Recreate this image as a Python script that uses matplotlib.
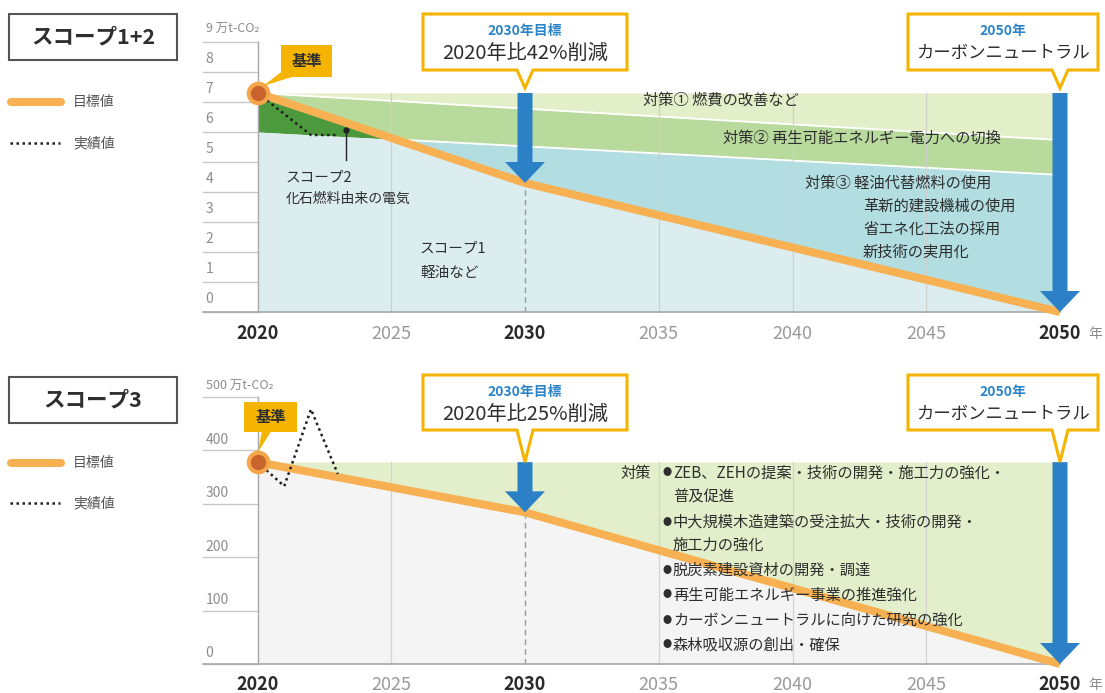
import numpy as np
import matplotlib
matplotlib.use('Agg')
import matplotlib.pyplot as plt
from matplotlib.patches import Polygon, FancyArrow, Rectangle

plt.rcParams['font.family'] = ['Noto Sans CJK JP', 'DejaVu Sans']

W, H = 1105, 693

# ---------------- data ----------------
target_years = [2020, 2030, 2050]
actual_years = [2020, 2021, 2022, 2023]
band_years = [2020, 2050]

s12_target = [7.3, 4.3, 0.0]
s12_actual = [7.3, 6.6, 5.9, 5.9]
s12_top = [7.3, 7.3]
s12_measure1_floor = [7.3, 5.73]
s12_scope1_top = [6.0, 4.57]

s3_target = [378, 284, 0]
s3_actual = [378, 333, 477, 356]
s3_top = [378, 378]

xtick_years = [2020, 2025, 2030, 2035, 2040, 2045, 2050]
bold_years = [2020, 2030, 2050]
grid_years = [2025, 2035, 2040, 2045]
s12_yticks = list(range(0, 10))
s3_yticks = [0, 100, 200, 300, 400, 500]

# ---------------- colours ----------------
C_ORANGE = '#f7b153'
C_BLUE = '#2b80c6'
C_YEL = '#f5b400'
C_TXT = '#2e2e2e'
C_GRAY = '#8c8c8c'

# ---------------- layout (pixel mapping) ----------------
X0, XS = 257.5, 26.75           # px of 2020, px per year
XLIM = (2020 - X0 / XS, 2020 + (W - X0) / XS)
SPLIT = 346.5

fig = plt.figure(figsize=(W / 100, H / 100), dpi=100)
ax1 = fig.add_axes([0, 1 - SPLIT / H, 1, SPLIT / H])
ax2 = fig.add_axes([0, 0, 1, 1 - SPLIT / H])
ax1.set_xlim(*XLIM); ax1.set_ylim((312 - SPLIT) / 30, 312 / 30)
ax2.set_xlim(*XLIM); ax2.set_ylim((664 - H) / 0.534, (664 - SPLIT) / 0.534)
for a in (ax1, ax2):
    a.axis('off')


def P(x, y):
    return (x / W, 1 - y / H)


def ftext(x, y, s, **kw):
    fig.text(*P(x, y), s, transform=fig.transFigure, **kw)


def fpoly(pts, **kw):
    fig.patches.append(Polygon([P(x, y) for x, y in pts], closed=True,
                               transform=fig.transFigure, **kw))


def fline(xs, ys, **kw):
    fig.lines.append(plt.Line2D([x / W for x in xs], [1 - y / H for y in ys],
                                transform=fig.transFigure, **kw))


xs = np.linspace(2020, 2050, 1201)

# ================= TOP PANEL =================
ax = ax1
org = np.interp(xs, target_years, s12_target)
lA = np.interp(xs, band_years, s12_measure1_floor)
lB = np.interp(xs, band_years, s12_scope1_top)
tp = np.interp(xs, band_years, s12_top)
ax.fill_between(xs, lA, tp, color='#e3efc9', lw=0, zorder=1)
ax.fill_between(xs, np.maximum(org, lB), lA, color='#b9da9d', lw=0, zorder=1)
ax.fill_between(xs, lB, org, where=org >= lB, color='#4c9a3d', lw=0, zorder=1, interpolate=True)
ax.fill_between(xs, org, lB, where=org <= lB, color='#b2dde1', lw=0, zorder=1, interpolate=True)
ax.fill_between(xs, 0, np.minimum(org, lB), color='#dcedf0', lw=0, zorder=1)
ax.plot(xs, lA, color='white', lw=1.3, zorder=2)
ax.plot(xs, np.where(org <= lB, lB, np.nan), color='white', lw=1.3, zorder=2)

for g in grid_years:
    ax.plot([g, g], [0, s12_top[0]], color='#cfcfcf', lw=0.9, zorder=2)
ax.plot([2030, 2030], [0, s12_target[1]], color='#9a9a9a', lw=1, ls=(0, (4, 3)), zorder=2)

for v in s12_yticks:
    ax.plot([2020 - 54.5 / XS, 2020], [v, v], color='#c8c8c8', lw=1, zorder=2)
    lab = f'{v}' if v < 9 else '9 万t-CO₂'
    ax.text(2020 - 52 / XS, v + 0.42, lab, fontsize=10 if v < 9 else 9,
            color=C_GRAY, ha='left', va='center', zorder=3)
ax.plot([2020 - 54.5 / XS, 2050], [0, 0], color='#a8a8a8', lw=1.2, zorder=3)
ax.plot([2020, 2020], [0, 9], color='#a8a8a8', lw=1, zorder=3)

ax.plot(target_years, s12_target, color=C_ORANGE, lw=5.8, zorder=5, solid_capstyle='butt')
ax.plot(actual_years, s12_actual, color='#1e1e1e', lw=1.8, ls=(0, (1, 1.4)), zorder=6)
ax.plot(2020, s12_target[0], 'o', ms=17, color='#f5a54a', mec='none', zorder=7)
ax.plot(2020, s12_target[0], 'o', ms=11, color='#c8642c', mec='none', zorder=8)

ax.add_patch(FancyArrow(2030, s12_top[0], 0, s12_target[1] - s12_top[0], width=15 / XS,
                        head_width=40 / XS, head_length=21 / 30, length_includes_head=True,
                        color=C_BLUE, lw=0, zorder=9))
ax.add_patch(FancyArrow(2050, s12_top[0], 0, s12_target[2] - s12_top[0], width=15 / XS,
                        head_width=40 / XS, head_length=21 / 30, length_includes_head=True,
                        color=C_BLUE, lw=0, zorder=9))

for yv in xtick_years:
    b = yv in bold_years
    ax.text(yv, -0.72, str(yv), fontsize=13, fontweight='bold' if b else 'normal',
            color='#2a2a2a' if b else '#9a9a9a', ha='center', va='center')
ax.text(2051.3, -0.72, '年', fontsize=10, color=C_GRAY, ha='center', va='center')

ax.plot([2023.3, 2023.3], [5.07, 6.07], color='#222222', lw=1, zorder=6)
ax.plot(2023.3, 6.07, 'o', ms=3.5, color='#222222', zorder=6)

# ================= BOTTOM PANEL =================
ax = ax2
org3 = np.interp(xs, target_years, s3_target)
tp3 = np.interp(xs, band_years, s3_top)
ax.fill_between(xs, org3, tp3, color='#e2efca', lw=0, zorder=1)
ax.fill_between(xs, 0, org3, color='#f4f4f4', lw=0, zorder=1)
for g in grid_years:
    ax.plot([g, g], [0, s3_top[0]], color='#d3d3d3', lw=0.9, zorder=2)
ax.plot([2030, 2030], [0, s3_target[1]], color='#9a9a9a', lw=1, ls=(0, (4, 3)), zorder=2)
for v in s3_yticks:
    ax.plot([2020 - 54.5 / XS, 2020], [v, v], color='#c8c8c8', lw=1, zorder=2)
    lab = f'{v}' if v < 500 else '500 万t-CO₂'
    ax.text(2020 - 52 / XS, v + 20, lab, fontsize=10 if v < 500 else 9,
            color=C_GRAY, ha='left', va='center', zorder=3)
ax.plot([2020 - 54.5 / XS, 2050], [0, 0], color='#a8a8a8', lw=1.2, zorder=3)
ax.plot([2020, 2020], [0, 500], color='#a8a8a8', lw=1, zorder=3)

ax.plot(target_years, s3_target, color=C_ORANGE, lw=5.8, zorder=5, solid_capstyle='butt')
ax.plot(actual_years, s3_actual, color='#1e1e1e', lw=1.8, ls=(0, (1, 1.4)), zorder=6)
ax.plot(2020, s3_target[0], 'o', ms=17, color='#f5a54a', mec='none', zorder=7)
ax.plot(2020, s3_target[0], 'o', ms=11, color='#c8642c', mec='none', zorder=8)

ax.add_patch(FancyArrow(2030, s3_top[0], 0, s3_target[1] - s3_top[0], width=15 / XS,
                        head_width=40 / XS, head_length=21 / 0.534, length_includes_head=True,
                        color=C_BLUE, lw=0, zorder=9))
ax.add_patch(FancyArrow(2050, s3_top[0], 0, s3_target[2] - s3_top[0], width=15 / XS,
                        head_width=40 / XS, head_length=21 / 0.534, length_includes_head=True,
                        color=C_BLUE, lw=0, zorder=9))
for yv in xtick_years:
    b = yv in bold_years
    ax.text(yv, -39, str(yv), fontsize=13, fontweight='bold' if b else 'normal',
            color='#2a2a2a' if b else '#9a9a9a', ha='center', va='center')
ax.text(2051.3, -39, '年', fontsize=10, color=C_GRAY, ha='center', va='center')

# ================= DECORATIONS =================
def callout(x0, x1, y0, y1, tipx, tipy, t1, t2, fs2):
    pts = [(x0, y0), (x1, y0), (x1, y1), (tipx + 8, y1), (tipx, tipy), (tipx - 8, y1), (x0, y1)]
    fpoly(pts, facecolor='white', edgecolor=C_YEL, lw=2.2, zorder=10)
    cx = (x0 + x1) / 2
    ftext(cx, y0 + 17, t1, fontsize=10, fontweight='bold', color='#2b84c8',
          ha='center', va='center', zorder=11)
    ftext(cx, y0 + 39, t2, fontsize=fs2, color=C_TXT, ha='center', va='center', zorder=11)


callout(423, 627, 14, 70, 525, 88, '2030年目標', '2020年比42%削減', 14.5)
callout(908, 1098, 14, 70, 1060, 88, '2050年', 'カーボンニュートラル', 12.5)
callout(423, 627, 375, 430, 525, 462, '2030年目標', '2020年比25%削減', 14.5)
callout(908, 1098, 375, 430, 1060, 462, '2050年', 'カーボンニュートラル', 12.5)


def kijun(x0, x1, y0, y1, ptr):
    fpoly(ptr, facecolor=C_YEL, edgecolor='none', zorder=10)
    fig.patches.append(Rectangle(P(x0, y1), (x1 - x0) / W, (y1 - y0) / H,
                                 transform=fig.transFigure, facecolor=C_YEL,
                                 edgecolor='none', zorder=10))
    ftext((x0 + x1) / 2, (y0 + y1) / 2, '基準', fontsize=11, fontweight='bold',
          color=C_TXT, ha='center', va='center', zorder=11)


kijun(281, 332, 45, 77, [(284, 70), (292, 77), (263, 86)])
kijun(244, 297, 402, 432, [(262, 430), (272, 430), (258, 452)])


def panel_title(y0, y1, s):
    fig.patches.append(Rectangle(P(9, y1), 168 / W, (y1 - y0) / H, transform=fig.transFigure,
                                 facecolor='white', edgecolor='#555555', lw=1.5, zorder=10))
    ftext(93, (y0 + y1) / 2, s, fontsize=15.5, fontweight='bold', color=C_TXT,
          ha='center', va='center', zorder=11)


def legend(yo, yd):
    fline([11, 61], [yo, yo], color=C_ORANGE, lw=5.8, solid_capstyle='round')
    ftext(73, yo, '目標値', fontsize=10, color='#555555', ha='left', va='center')
    fline([10, 60], [yd, yd], color='#1e1e1e', lw=1.8, ls=(0, (1, 1.4)))
    ftext(73, yd, '実績値', fontsize=10, color='#555555', ha='left', va='center')


panel_title(14, 60, 'スコープ1+2')
legend(102, 143)
panel_title(377, 423, 'スコープ3')
legend(463, 503)

ftext(286, 178, 'スコープ2', fontsize=10.5, color=C_TXT, ha='left', va='center')
ftext(286, 199, '化石燃料由来の電気', fontsize=10, color=C_TXT, ha='left', va='center')
ftext(420, 249, 'スコープ1', fontsize=10.5, color=C_TXT, ha='left', va='center')
ftext(420, 273, '軽油など', fontsize=10.5, color=C_TXT, ha='left', va='center')
ftext(643, 100, '対策① 燃費の改善など', fontsize=11, color=C_TXT, ha='left', va='center')
ftext(723, 138, '対策② 再生可能エネルギー電力への切換', fontsize=11, color=C_TXT, ha='left', va='center')
ftext(805, 183, '対策③ 軽油代替燃料の使用', fontsize=11, color=C_TXT, ha='left', va='center')
ftext(863, 206, '革新的建設機械の使用', fontsize=11, color=C_TXT, ha='left', va='center')
ftext(863, 229, '省エネ化工法の採用', fontsize=11, color=C_TXT, ha='left', va='center')
ftext(863, 252, '新技術の実用化', fontsize=11, color=C_TXT, ha='left', va='center')

ftext(620, 473, '対策', fontsize=11, color=C_TXT, ha='left', va='center')
items = [(473, True, 'ZEB、ZEHの提案・技術の開発・施工力の強化・'),
         (497, False, '普及促進'),
         (522, True, '中大規模木造建築の受注拡大・技術の開発・'),
         (545, False, '施工力の強化'),
         (570, True, '脱炭素建設資材の開発・調達'),
         (595, True, '再生可能エネルギー事業の推進強化'),
         (620, True, 'カーボンニュートラルに向けた研究の強化'),
         (645, True, '森林吸収源の創出・確保')]
for y, bul, s in items:
    if bul:
        ftext(667, y, '●', fontsize=6.5, color=C_TXT, ha='center', va='center')
    ftext(673, y, s, fontsize=11, color=C_TXT, ha='left', va='center')

fig.savefig('out.png', dpi=100)
